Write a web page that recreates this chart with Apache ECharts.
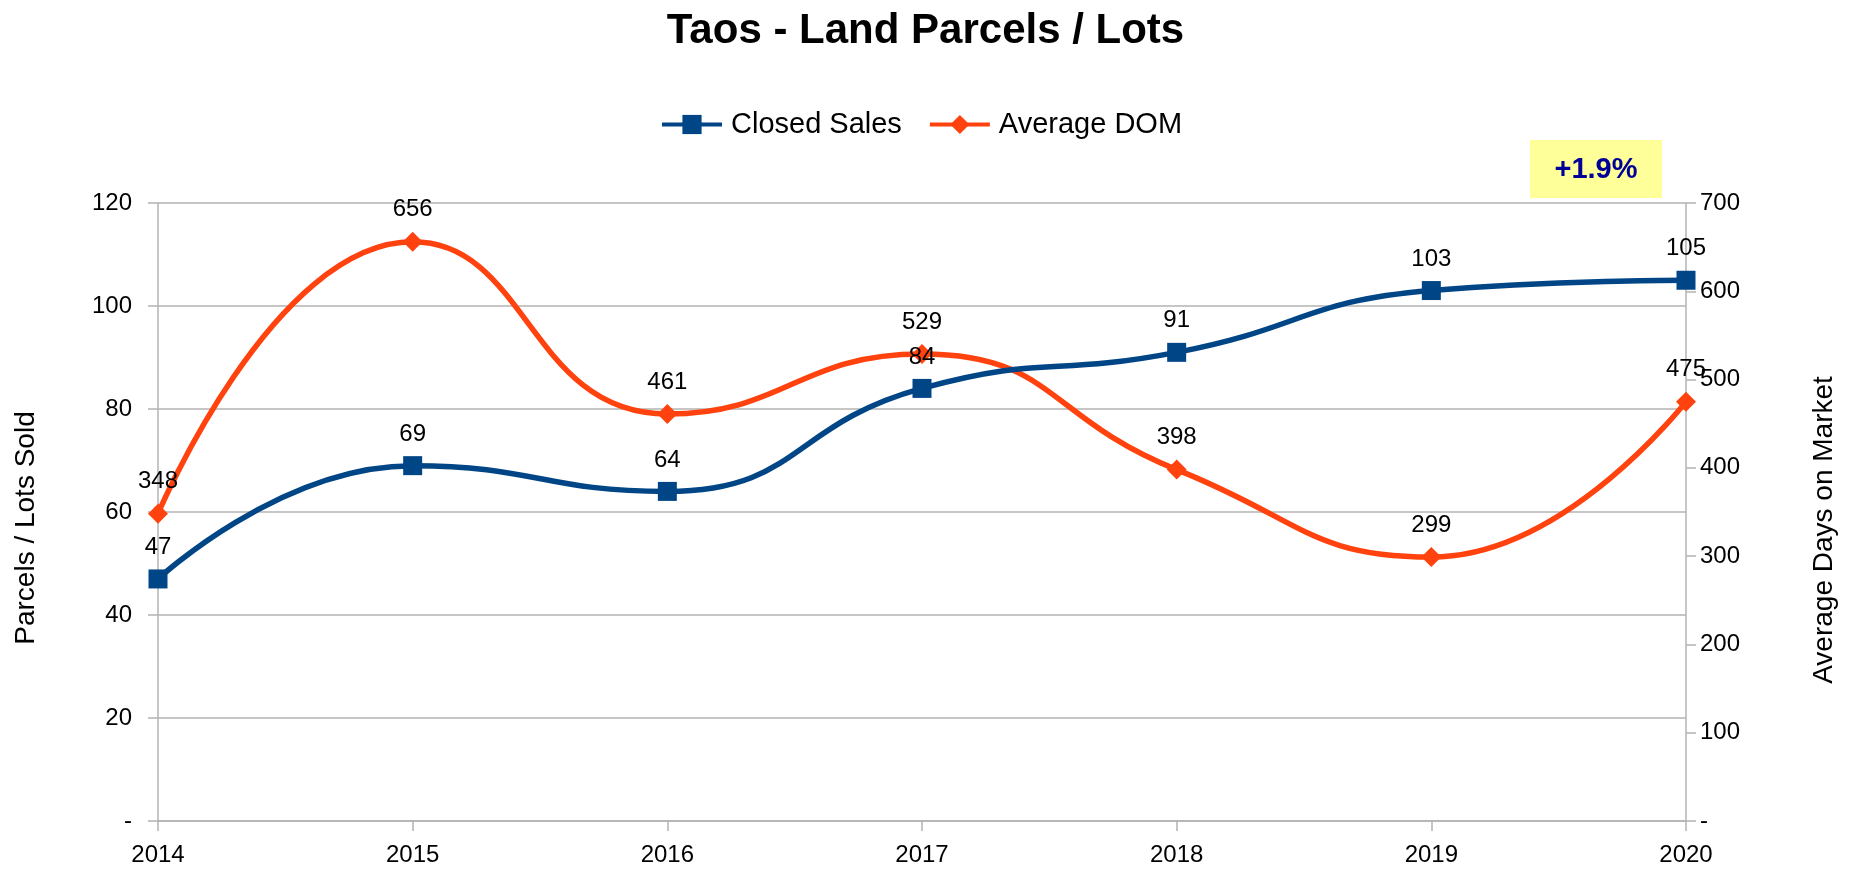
<!DOCTYPE html>
<html>
<head>
<meta charset="utf-8">
<script src="https://cdn.jsdelivr.net/npm/echarts@6/dist/echarts.min.js"></script>
<style>
html,body{margin:0;padding:0;background:#fff;}
#chart{width:1851px;height:872px;}
</style>
</head>
<body>
<div id="chart"></div>
<script>
const years = ['2014','2015','2016','2017','2018','2019','2020'];
const closedSales = [47, 69, 64, 84, 91, 103, 105];
const averageDOM = [348, 656, 461, 529, 398, 299, 475];
const leftTicks = {min: 0, max: 120, interval: 20};
const rightTicks = {min: 0, max: 700, interval: 100};
const changeNote = '+1.9%';

const FONT = '"Liberation Sans", Arial, sans-serif';
const BLUE = '#004586', ORANGE = '#ff420e', GRID = '#b3b3b3';
const chart = echarts.init(document.getElementById('chart'));
chart.setOption({
  animation: false,
  textStyle: {fontFamily: FONT},
  title: {
    text: 'Taos - Land Parcels / Lots',
    left: 'center', top: 5,
    textStyle: {fontFamily: FONT, fontSize: 42, fontWeight: 'bold', color: '#000'}
  },
  legend: {
    top: 105, left: 655,
    itemWidth: 60, itemHeight: 24, itemGap: 26,
    lineStyle: {width: 4},
    textStyle: {fontFamily: FONT, fontSize: 29, color: '#000', padding: [0, 0, 0, 4]},
    data: ['Closed Sales', 'Average DOM']
  },
  grid: {left: 158, right: 165, top: 203, bottom: 51, containLabel: false},
  xAxis: {
    type: 'category', data: years, boundaryGap: false,
    axisLine: {lineStyle: {color: GRID, width: 1.5}},
    axisTick: {show: true, length: 10, lineStyle: {color: GRID, width: 1.5}},
    axisLabel: {color: '#000', fontSize: 24, margin: 22, fontFamily: FONT},
    splitLine: {show: false}
  },
  yAxis: [{
    type: 'value', min: leftTicks.min, max: leftTicks.max, interval: leftTicks.interval,
    axisLine: {show: true, lineStyle: {color: GRID, width: 1.5}},
    axisTick: {show: true, length: 10, lineStyle: {color: GRID, width: 1.5}},
    axisLabel: {color: '#000', fontSize: 24, margin: 26, fontFamily: FONT,
      formatter: v => v === 0 ? '-' : v},
    splitLine: {show: true, lineStyle: {color: GRID, width: 1.5}}
  }, {
    type: 'value', min: rightTicks.min, max: rightTicks.max, interval: rightTicks.interval,
    position: 'right',
    axisLine: {show: true, lineStyle: {color: GRID, width: 1.5}},
    axisTick: {show: true, length: 10, lineStyle: {color: GRID, width: 1.5}},
    axisLabel: {color: '#000', fontSize: 24, margin: 14, fontFamily: FONT,
      formatter: v => v === 0 ? '-' : v},
    splitLine: {show: false}
  }],
  series: [{
    name: 'Closed Sales', type: 'line', yAxisIndex: 0, data: closedSales,
    smooth: 0.5, symbol: 'rect', symbolSize: 19,
    lineStyle: {color: BLUE, width: 5.5},
    itemStyle: {color: BLUE},
    label: {show: true, position: 'top', distance: 10, color: '#000', fontSize: 24, fontFamily: FONT},
    z: 3
  }, {
    name: 'Average DOM', type: 'line', yAxisIndex: 1, data: averageDOM,
    smooth: 0.5, symbol: 'diamond', symbolSize: [20, 20],
    lineStyle: {color: ORANGE, width: 5.5},
    itemStyle: {color: ORANGE},
    label: {show: true, position: 'top', distance: 10, color: '#000', fontSize: 24, fontFamily: FONT},
    z: 2
  }],
  graphic: [{
    type: 'text', x: 26, y: 528, rotation: Math.PI / 2,
    style: {text: 'Parcels / Lots Sold', fill: '#000', font: '28px ' + FONT,
      textAlign: 'center', textVerticalAlign: 'middle'}
  }, {
    type: 'text', x: 1824, y: 530, rotation: Math.PI / 2,
    style: {text: 'Average Days on Market', fill: '#000', font: '28px ' + FONT,
      textAlign: 'center', textVerticalAlign: 'middle'}
  }, {
    type: 'group', left: 1530, top: 140,
    children: [{
      type: 'rect', shape: {x: 0, y: 0, width: 132, height: 58},
      style: {fill: '#ffff99'}
    }, {
      type: 'text', x: 66, y: 30,
      style: {text: changeNote, fill: '#000099', font: 'bold 29px ' + FONT,
        textAlign: 'center', textVerticalAlign: 'middle'}
    }]
  }]
});
</script>
</body>
</html>
